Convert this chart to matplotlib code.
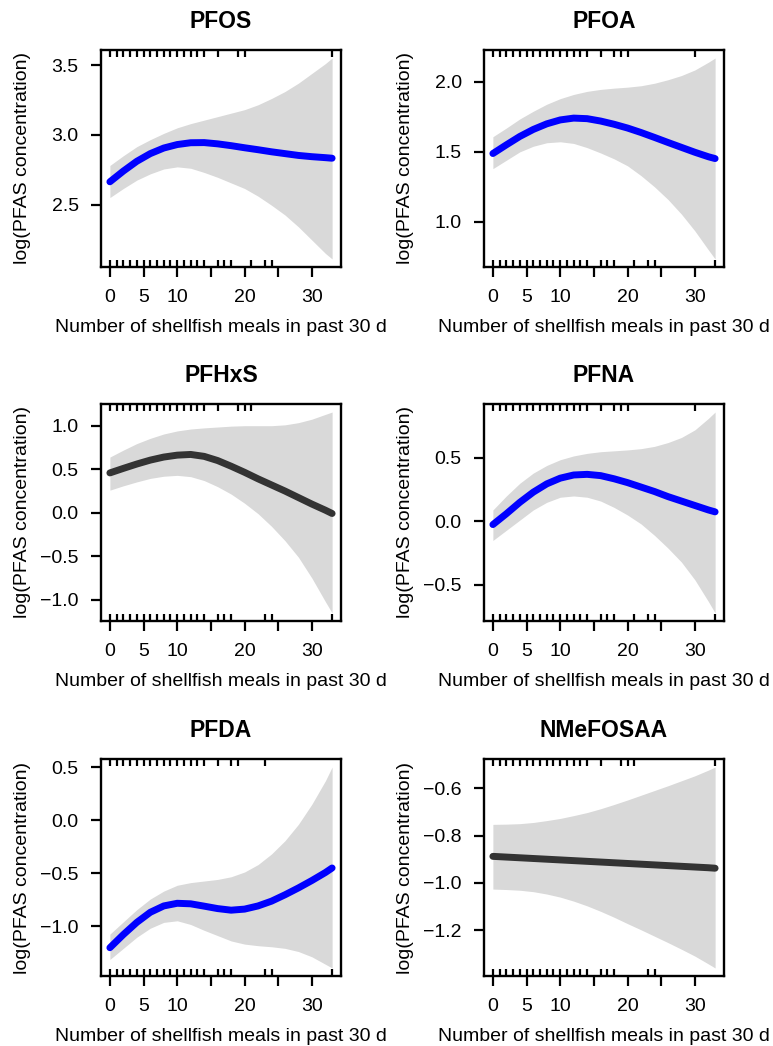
import numpy as np
import matplotlib.pyplot as plt

plt.rcParams['font.family'] = ['Liberation Sans', 'DejaVu Sans']

# x grid the curves were read at (number of shellfish meals)
x_grid = [0, 2, 4, 6, 8, 10, 12, 14, 16, 18, 20, 22, 24, 26, 28, 30, 32, 33]

titles = ['PFOS', 'PFOA', 'PFHxS', 'PFNA', 'PFDA', 'NMeFOSAA']
line_colors = ['#0000FF', '#0000FF', '#333333', '#0000FF', '#0000FF', '#333333']

# fitted smooth and confidence band
pfos_fit = [2.663, 2.74, 2.81, 2.865, 2.905, 2.93, 2.943, 2.944, 2.935, 2.922,
            2.907, 2.893, 2.878, 2.865, 2.852, 2.843, 2.836, 2.832]
pfos_hi = [2.78, 2.85, 2.915, 2.965, 3.01, 3.05, 3.08, 3.105, 3.13, 3.155,
           3.18, 3.215, 3.26, 3.31, 3.37, 3.44, 3.51, 3.55]
pfos_lo = [2.55, 2.615, 2.675, 2.72, 2.755, 2.77, 2.76, 2.73, 2.695, 2.655,
           2.615, 2.56, 2.495, 2.425, 2.34, 2.245, 2.15, 2.11]

pfoa_fit = [1.488, 1.55, 1.61, 1.66, 1.70, 1.728, 1.741, 1.737, 1.72, 1.697,
            1.67, 1.638, 1.603, 1.567, 1.532, 1.497, 1.465, 1.452]
pfoa_hi = [1.608, 1.67, 1.735, 1.79, 1.84, 1.88, 1.91, 1.932, 1.946, 1.955,
           1.962, 1.972, 1.99, 2.015, 2.045, 2.085, 2.14, 2.17]
pfoa_lo = [1.38, 1.44, 1.50, 1.54, 1.565, 1.572, 1.56, 1.53, 1.492, 1.45,
           1.40, 1.33, 1.25, 1.16, 1.055, 0.935, 0.80, 0.735]

pfhxs_fit = [0.458, 0.51, 0.56, 0.605, 0.64, 0.662, 0.67, 0.648, 0.60, 0.535,
             0.465, 0.39, 0.32, 0.25, 0.175, 0.10, 0.03, -0.008]
pfhxs_hi = [0.64, 0.72, 0.795, 0.855, 0.905, 0.94, 0.962, 0.975, 0.985, 0.995,
            1.0, 1.0, 1.0, 1.01, 1.035, 1.075, 1.13, 1.157]
pfhxs_lo = [0.26, 0.31, 0.355, 0.395, 0.42, 0.43, 0.415, 0.37, 0.30, 0.215,
            0.11, -0.01, -0.155, -0.32, -0.51, -0.75, -1.02, -1.15]

pfna_fit = [-0.025, 0.06, 0.15, 0.23, 0.295, 0.34, 0.365, 0.37, 0.36, 0.335,
            0.305, 0.27, 0.235, 0.195, 0.16, 0.125, 0.09, 0.075]
pfna_hi = [0.09, 0.20, 0.30, 0.38, 0.44, 0.485, 0.515, 0.535, 0.548, 0.555,
           0.562, 0.572, 0.59, 0.62, 0.66, 0.72, 0.81, 0.86]
pfna_lo = [-0.15, -0.07, 0.01, 0.09, 0.15, 0.19, 0.20, 0.19, 0.16, 0.11,
           0.05, -0.02, -0.11, -0.21, -0.32, -0.46, -0.63, -0.72]

pfda_fit = [-1.204, -1.08, -0.965, -0.87, -0.81, -0.785, -0.79, -0.812, -0.835, -0.85,
            -0.84, -0.81, -0.765, -0.705, -0.64, -0.57, -0.495, -0.452]
pfda_hi = [-1.076, -0.96, -0.845, -0.745, -0.67, -0.615, -0.59, -0.575, -0.56, -0.535,
           -0.49, -0.42, -0.32, -0.195, -0.04, 0.15, 0.37, 0.5]
pfda_lo = [-1.315, -1.21, -1.105, -1.02, -0.965, -0.95, -0.985, -1.04, -1.09, -1.14,
           -1.17, -1.185, -1.195, -1.21, -1.24, -1.29, -1.36, -1.395]

nmefosaa_fit = [-0.888, -0.891, -0.894, -0.897, -0.900, -0.903, -0.906, -0.909, -0.912, -0.915,
                -0.918, -0.921, -0.924, -0.927, -0.930, -0.933, -0.936, -0.938]
nmefosaa_hi = [-0.753, -0.752, -0.750, -0.745, -0.737, -0.728, -0.716, -0.703, -0.687, -0.669,
               -0.65, -0.63, -0.61, -0.59, -0.569, -0.548, -0.524, -0.511]
nmefosaa_lo = [-1.026, -1.028, -1.031, -1.037, -1.047, -1.06, -1.077, -1.097, -1.12, -1.145,
               -1.172, -1.198, -1.225, -1.252, -1.28, -1.309, -1.342, -1.359]

fits = [pfos_fit, pfoa_fit, pfhxs_fit, pfna_fit, pfda_fit, nmefosaa_fit]
highs = [pfos_hi, pfoa_hi, pfhxs_hi, pfna_hi, pfda_hi, nmefosaa_hi]
lows = [pfos_lo, pfoa_lo, pfhxs_lo, pfna_lo, pfda_lo, nmefosaa_lo]

# rug marks (observed values) along the top and bottom of each panel
dense = list(range(15))
rug_top = [dense + [16, 19, 20, 33],
           dense + [16, 18, 19, 20, 30],
           dense + [16, 19, 20, 21],
           dense + [16, 18, 19, 20, 30],
           dense + [16, 18, 19, 23],
           dense + [16, 19, 20, 21, 33]]
rug_bottom = [dense + [16, 17, 18, 21, 23, 24],
              dense + [16, 17, 18, 21, 23, 24, 33],
              dense + [16, 17, 18, 23, 24, 33],
              dense + [16, 17, 18, 21, 23, 24, 33],
              dense + [16, 17, 18, 23, 24, 33],
              dense + [16, 17, 18, 23, 24]]

y_ticks = [[2.5, 3.0, 3.5],
           [1.0, 1.5, 2.0],
           [-1.0, -0.5, 0.0, 0.5, 1.0],
           [-0.5, 0.0, 0.5],
           [-1.0, -0.5, 0.0, 0.5],
           [-1.2, -1.0, -0.8, -0.6]]
x_ticks = [0, 5, 10, 15, 20, 25, 30]
x_labels = ['0', '5', '10', '', '20', '', '30']

W, H = 773, 1046
fig = plt.figure(figsize=(W / 100, H / 100), dpi=100)

col_left = [101, 484]
row_top = [50, 404, 759]
box_w, box_h = 240, 217

for i, name in enumerate(titles):
    r, c = divmod(i, 2)
    ax = fig.add_axes([col_left[c] / W, 1 - (row_top[r] + box_h) / H, box_w / W, box_h / H])

    ax.fill_between(x_grid, lows[i], highs[i], color='#D9D9D9', lw=0, zorder=1)
    ax.plot(x_grid, fits[i], color=line_colors[i], lw=5, solid_capstyle='round',
            solid_joinstyle='round', zorder=3)

    tr = ax.get_xaxis_transform()
    ax.vlines(rug_bottom[i], 0, 0.032, transform=tr, color='black', lw=1.6, zorder=4)
    ax.vlines(rug_top[i], 0.968, 1, transform=tr, color='black', lw=1.6, zorder=4)

    ax.margins(x=0.04, y=0.04)
    ax.set_xticks(x_ticks)
    ax.set_xticklabels(x_labels)
    ax.set_yticks(y_ticks[i])
    ax.set_yticklabels([f'{v:.1f}'.replace('-', '\u2212') for v in y_ticks[i]])
    ax.tick_params(direction='out', length=7, width=1.6, labelsize=14, pad=9)

    for s in ax.spines.values():
        s.set_linewidth(1.7)

    ax.set_xlabel('Number of shellfish meals in past 30 d', fontsize=14, va='center')
    ax.xaxis.set_label_coords(0.5, -0.281)
    ax.set_ylabel('log(PFAS concentration)', fontsize=14, va='center')
    ax.yaxis.set_label_coords(-0.329, 0.5)
    ax.text(0.5, 1.13, name, transform=ax.transAxes, ha='center', va='center',
            fontsize=16.5, fontweight='bold')

fig.savefig('out.png', dpi=100)
